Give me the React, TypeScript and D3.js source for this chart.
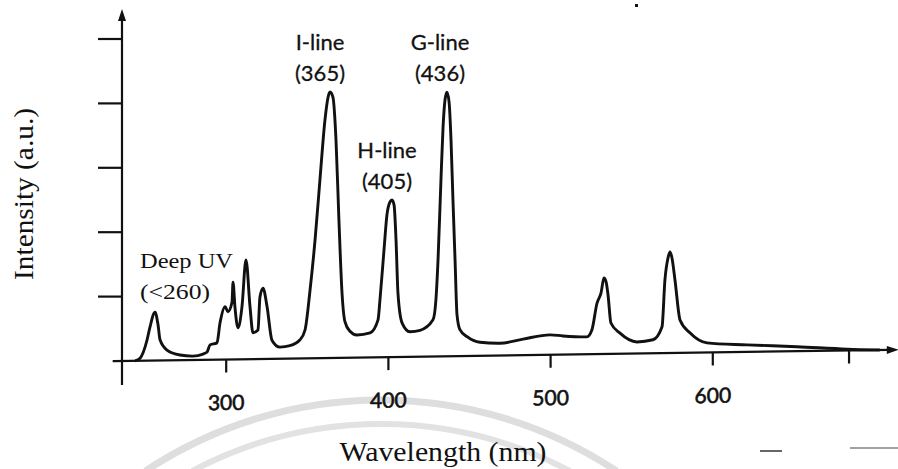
import React from 'react';
import * as d3 from 'd3';

// Spectrum samples (nm, a.u.)
const wavelengths = [243.8, 246.9, 251.2, 253, 256.1, 258, 259.2, 263.5, 271.5, 279.5, 285.7, 288.2, 290, 294.3, 296.2, 299.3, 301.1, 303.6, 304.2, 305.4, 307.3, 309.7, 312.2, 314.7, 316.5, 319.6, 320.8, 322.7, 325.2, 328.2, 333.2, 339.3, 345.5, 348.6, 351.7, 354.8, 357.8, 360.9, 362.8, 364, 365.8, 367.7, 369.5, 371.4, 373.2, 376.3, 380.6, 388.7, 393.6, 394.8, 397.3, 399.1, 401, 402.2, 403.5, 404.7, 405.9, 408.4, 413.3, 419.5, 427.5, 429.3, 430.6, 432.4, 433.7, 434.9, 436.1, 437.4, 438.6, 439.8, 441.1, 442.3, 444.1, 448.5, 456.5, 468.8, 483, 499.6, 507.6, 522.4, 525.5, 528.6, 531.1, 532.9, 534.2, 535.4, 537.2, 542.8, 553.3, 563.1, 568.7, 570.5, 572.4, 573.6, 574.8, 576.7, 579.8, 585.9, 596.4, 621.1, 651.9, 682.7, 703];
const intensities = [0, 0.04, 0.32, 0.52, 0.75, 0.55, 0.32, 0.16, 0.08, 0.06, 0.09, 0.12, 0.23, 0.26, 0.57, 0.82, 0.74, 0.89, 1.2, 0.81, 0.49, 0.81, 1.54, 0.81, 0.41, 0.45, 0.96, 1.1, 0.81, 0.29, 0.18, 0.2, 0.29, 0.44, 1.06, 1.84, 2.77, 3.7, 4.05, 4.13, 4.05, 3.38, 2.14, 1.01, 0.56, 0.41, 0.35, 0.38, 0.58, 0.89, 1.67, 2.21, 2.41, 2.44, 2.36, 1.82, 0.99, 0.53, 0.39, 0.41, 0.57, 0.88, 1.5, 2.74, 3.56, 3.98, 4.1, 3.95, 3.36, 2.43, 1.49, 0.64, 0.41, 0.3, 0.21, 0.19, 0.25, 0.31, 0.29, 0.27, 0.38, 0.79, 0.95, 1.18, 1.12, 0.92, 0.48, 0.32, 0.18, 0.21, 0.41, 1.14, 1.48, 1.57, 1.48, 1.13, 0.51, 0.31, 0.15, 0.11, 0.07, 0.02, 0];

const xTickValues = [300, 400, 500, 600];
const xTickLabels = ['300', '400', '500', '600'];
const xExtraTicks = [684];
const yTickValues = [1, 2, 3, 4, 5];

const peakNames = ['I-line', 'H-line', 'G-line'];
const peakWavelengths = ['(365)', '(405)', '(436)'];
const deepUvLines = ['Deep UV', '(<260)'];

const xTitle = 'Wavelength (nm)';
const yTitle = 'Intensity (a.u.)';

const W = 898;
const H = 469;
const INK = '#111';
const SANS = 'Lato, "Open Sans", sans-serif';
const SERIF = '"Liberation Serif", "DejaVu Serif", serif';

export default function App() {
  const x = d3.scaleLinear().domain([300, 600]).range([226.2, 712.8]);
  const y = d3.scaleLinear().domain([0, 5]).range([361, 39]);
  const axisX = 122;

  const pts: [number, number][] = wavelengths
    .slice(0, Math.min(wavelengths.length, intensities.length))
    .map((w, i) => [w, intensities[i]]);

  const line = d3
    .line<[number, number]>()
    .x((d) => x(d[0]))
    .y((d) => y(d[1]))
    .curve(d3.curveMonotoneX);

  // scanned page is slightly skewed: tilt the horizontal axis
  const tan = 0.0145;
  const skewDeg = (-Math.atan(tan) * 180) / Math.PI;
  const skew = `translate(0,${tan * axisX}) skewY(${skewDeg})`;

  const xStart = x(230);
  const xEnd = x(708.5);

  const peakPos = [
    { cx: 320, y1: 50, y2: 81 },
    { cx: 387, y1: 158, y2: 189 },
    { cx: 440, y1: 50, y2: 81 },
  ];

  const arc = (r: number) => {
    const cx = 381;
    const cy = 826;
    const dy = cy - H - 2;
    const dx = Math.sqrt(r * r - dy * dy);
    return `M${cx - dx},${H + 2} A${r},${r} 0 0 1 ${cx + dx},${H + 2}`;
  };

  return (
    <svg
      width={W}
      height={H}
      viewBox={`0 0 ${W} ${H}`}
      style={{ position: 'absolute', left: 0, top: 0, background: '#fff' }}
    >
      <rect x={0} y={0} width={W} height={H} fill="#fff" />
      {/* faint watermark arcs */}
      <path d={arc(426)} fill="none" stroke="#dedede" strokeWidth={7} />
      <path d={arc(402)} fill="none" stroke="#e2e2e2" strokeWidth={6} />

      {/* y axis */}
      <line x1={axisX} x2={axisX} y1={385} y2={18} stroke={INK} strokeWidth={2.2} />
      <path d={`M${axisX},9 L${axisX - 4},21 L${axisX + 4},21 Z`} fill={INK} />
      {yTickValues.map((t) => (
        <line key={t} x1={axisX - 24} x2={axisX} y1={y(t)} y2={y(t)} stroke={INK} strokeWidth={2.2} />
      ))}

      <g transform={skew}>
        <line x1={xStart} x2={xEnd} y1={y(0)} y2={y(0)} stroke={INK} strokeWidth={2.2} />
        <path
          d={`M${xEnd + 10},${y(0)} L${xEnd - 2},${y(0) - 4} L${xEnd - 2},${y(0) + 4} Z`}
          fill={INK}
        />
        {[...xTickValues, ...xExtraTicks].map((t) => (
          <line key={t} x1={x(t)} x2={x(t)} y1={y(0)} y2={y(0) + 13} stroke={INK} strokeWidth={2.2} />
        ))}
        {xTickValues.map((t, i) => (
          <text
            key={t}
            x={x(t)}
            y={411.5}
            textAnchor="middle"
            fontFamily={SANS}
            fontSize={21}
            fill={INK}
            stroke={INK}
            strokeWidth={0.6}
          >
            {xTickLabels[i]}
          </text>
        ))}
        <path d={line(pts) || ''} fill="none" stroke={INK} strokeWidth={2.9} strokeLinejoin="round" />
      </g>

      {/* peak annotations */}
      {peakNames.map((n, i) => (
        <g key={n} fontFamily={SANS} fontSize={22} fill={INK} stroke={INK} strokeWidth={0.3} textAnchor="middle">
          <text x={peakPos[i].cx} y={peakPos[i].y1}>{n}</text>
          <text x={peakPos[i].cx} y={peakPos[i].y2}>{peakWavelengths[i]}</text>
        </g>
      ))}
      <text x={140} y={268} fontFamily={SERIF} fontSize={22} fill={INK} textLength={93} lengthAdjust="spacingAndGlyphs">
        {deepUvLines[0]}
      </text>
      <text x={140} y={299} fontFamily={SERIF} fontSize={22} fill={INK} textLength={70} lengthAdjust="spacingAndGlyphs">
        {deepUvLines[1]}
      </text>

      {/* axis titles */}
      <text
        x={443}
        y={461}
        textAnchor="middle"
        fontFamily={SERIF}
        fontSize={28}
        fill={INK}
        textLength={207}
        lengthAdjust="spacingAndGlyphs"
      >
        {xTitle}
      </text>
      <text
        transform="translate(33,194) rotate(-90)"
        textAnchor="middle"
        fontFamily={SERIF}
        fontSize={27}
        fill={INK}
        textLength={172}
        lengthAdjust="spacingAndGlyphs"
      >
        {yTitle}
      </text>

      {/* scan specks */}
      <rect x={635} y={4} width={3} height={3} fill={INK} />
      <line x1={760} x2={782} y1={451} y2={451} stroke="#333" strokeWidth={1.5} />
      <line x1={850} x2={898} y1={448} y2={448} stroke="#444" strokeWidth={1.2} />
    </svg>
  );
}
